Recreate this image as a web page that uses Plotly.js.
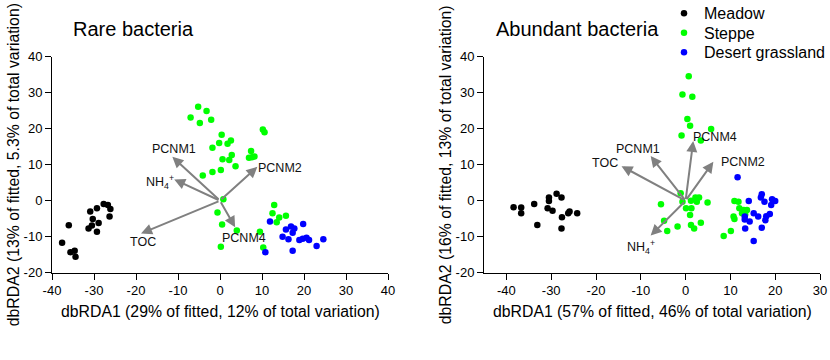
<!DOCTYPE html>
<html>
<head>
<meta charset="utf-8">
<script src="https://cdn.plot.ly/plotly-3.0.1.min.js"></script>
<style>html,body{margin:0;padding:0;background:#fff;}#chart{width:830px;height:360px;}</style>
</head>
<body>
<div id="chart"></div>
<script>
// ---------- Rare bacteria ----------
const rareMeadowX = [-27.7,-26.7,-26.1,-29.3,-30.9,-26.3,-30.3,-28.9,-30.5,-31.3,-29.3,-36.0,-37.6,-35.6,-34.6,-34.4];
const rareMeadowY = [-0.9,-1.2,-2.3,-2.1,-3.0,-4.4,-5.1,-6.2,-6.9,-7.7,-8.6,-6.8,-11.7,-14.3,-13.9,-15.6];
const rareSteppeX = [-5.2,-3.2,-7.0,-4.8,-2.1,10.2,10.6,0.4,-0.2,-1.8,1.8,2.6,2.8,0.6,2.2,3.7,7.4,6.9,7.6,8.2,0.2,-1.8,-4.1,
                     0.8,-0.6,0.5,4.0,0.2,12.9,12.5,14.1,13.5,15.7,9.5,10.3];
const rareSteppeY = [26.1,24.9,23.1,21.6,22.5,19.8,19.0,18.3,16.0,14.7,15.8,16.7,12.7,11.5,11.3,9.6,13.8,11.9,12.1,12.3,8.5,8.0,7.0,
                     0.4,-3.3,-6.6,-8.3,-12.8,-1.2,-3.5,-4.7,-6.0,-4.2,-8.6,-13.0];
const rareDesertX = [11.9,10.8,16.9,17.7,19.8,15.7,17.3,14.9,16.3,18.9,19.7,20.6,21.2,23.0,24.6,17.3];
const rareDesertY = [-5.8,-14.3,-7.2,-7.7,-6.5,-8.0,-8.9,-10.0,-10.7,-10.9,-10.6,-10.3,-10.9,-12.6,-10.7,-13.9];
const rareArrowNames = ["PCNM1","NH<sub>4</sub><sup>+</sup>","TOC","PCNM2","PCNM4"];
const rareArrowX = [-11.35,-10.9,-18.8,8.9,3.6];
const rareArrowY = [12.2,5.9,-9.1,9.4,-7.4];
const rareLabelX = [-11.0,-14.3,-18.4,14.4,5.8];
const rareLabelY = [14.4,5.3,-11.6,9.2,-10.4];

// ---------- Abundant bacteria ----------
const abMeadowX = [-38.4,-36.7,-36.7,-33.8,-33.1,-30.5,-30.5,-28.8,-27.7,-30.8,-29.7,-27.6,-25.9,-26.2,-24.2,-27.7];
const abMeadowY = [-1.8,-1.9,-3.5,-0.9,-6.75,0.9,-0.1,1.9,0.9,-2.1,-2.8,-4.6,-3.0,-3.5,-3.5,-7.7];
const abSteppeX = [0.7,-0.7,1.5,0.4,1.0,5.7,-0.9,3.4,
                   -1.1,-5.5,-0.7,1.2,2.2,3.0,2.5,4.9,0.1,1.3,1.0,-4.8,-1.8,-4.1,1.2,1.9,3.4,
                   10.9,11.8,12.0,13.0,12.6,13.7,13.3,10.7,10.9,10.1,8.5];
const abSteppeY = [34.6,29.5,28.9,22.7,20.8,19.9,18.1,16.7,
                   2.1,-1.0,-0.3,0.0,0.9,0.9,-0.3,-0.5,-2.1,-2.1,-4.0,-5.6,-7.2,-8.4,-6.75,-7.7,-6.1,
                   -0.1,-0.3,-2.1,-2.6,-3.5,-2.6,-3.8,-4.4,-5.1,-8.4,-9.8];
const abDesertX = [11.6,17.0,16.8,14.1,17.6,19.3,20.0,19.6,19.1,15.2,16.2,18.0,18.8,17.8,13.2,13.2,14.3,13.3,17.0,15.2];
const abDesertY = [6.5,1.8,0.9,-0.1,-0.3,0.4,-0.1,0.0,-1.2,-3.5,-4.4,-4.3,-3.7,-5.4,-4.4,-5.2,-5.8,-7.7,-7.5,-11.2];
const abArrowNames = ["PCNM1","TOC","PCNM4","PCNM2","NH<sub>4</sub><sup>+</sup>"];
const abArrowX = [-7.8,-14.3,1.7,6.2,-7.8];
const abArrowY = [12.4,9.6,16.6,10.8,-9.7];
const abLabelX = [-10.6,-18.0,6.5,12.9,-10.0];
const abLabelY = [14.5,10.6,17.6,10.7,-12.8];

// ---------- axes ticks ----------
const xTicksRare = [-40,-30,-20,-10,0,10,20,30,40];
const xTicksAb = [-40,-30,-20,-10,0,10,20,30];
const yTicks = [-20,-10,0,10,20,30,40];
const groupNames = ["Meadow","Steppe","Desert grassland"];
const groupColors = ["#000000","#00ff00","#0000ff"];
const legendIds = ["legend","legend2","legend3"];

const FONT = "Liberation Sans, Arial, sans-serif";
const W = 830, H = 360;
const px = v => v / W;
const py = v => (H - v) / H;

function pts(x, y, i, xa, ya, show) {
  return {type:"scatter", mode:"markers", x:x, y:y, xaxis:xa, yaxis:ya,
    name: groupNames[i], showlegend: show, legend: legendIds[i],
    marker:{color: groupColors[i], size:6.5, line:{width:0}}, hoverinfo:"skip", cliponaxis:false};
}

const traces = [
  pts(rareMeadowX, rareMeadowY, 0, "x", "y", false),
  pts(rareSteppeX, rareSteppeY, 1, "x", "y", false),
  pts(rareDesertX, rareDesertY, 2, "x", "y", false),
  pts(abMeadowX, abMeadowY, 0, "x2", "y2", true),
  pts(abSteppeX, abSteppeY, 1, "x2", "y2", true),
  pts(abDesertX, abDesertY, 2, "x2", "y2", true)
];

const annotations = [];
function arrows(names, ax, ay, lx, ly, xr, yr) {
  for (let i = 0; i < names.length; i++) {
    annotations.push({x: ax[i], y: ay[i], ax: 0, ay: 0, xref: xr, yref: yr, axref: xr, ayref: yr,
      text: "", showarrow: true, arrowhead: 2, arrowsize: 1.1, arrowwidth: 2, arrowcolor: "#808080"});
    annotations.push({x: lx[i], y: ly[i], xref: xr, yref: yr, text: names[i], showarrow: false,
      font: {family: FONT, size: 12.5, color: "#111"}});
  }
}
arrows(rareArrowNames, rareArrowX, rareArrowY, rareLabelX, rareLabelY, "x", "y");
arrows(abArrowNames, abArrowX, abArrowY, abLabelX, abLabelY, "x2", "y2");

const textAnn = (t, x, y, size, opts) => Object.assign({text: t, x: x, y: y, xref: "paper", yref: "paper",
  showarrow: false, font: {family: FONT, size: size, color: "#000"}}, opts || {});

annotations.push(textAnn("Rare bacteria", px(71), py(28.5), 20, {xanchor: "left", yanchor: "middle"}));
annotations.push(textAnn("Abundant bacteria", px(494), py(28.5), 20, {xanchor: "left", yanchor: "middle"}));
annotations.push(textAnn("dbRDA1 (29% of fitted, 12% of total variation)", px(220), py(311.5), 15.8, {xanchor: "center", yanchor: "middle"}));
annotations.push(textAnn("dbRDA1 (57% of fitted, 46% of total variation)", px(652), py(311.5), 15.8, {xanchor: "center", yanchor: "middle"}));
annotations.push(textAnn("dbRDA2 (13% of fitted, 5.3% of total variation)", px(13.5), py(164.7), 15.8, {xanchor: "center", yanchor: "middle", textangle: -90}));
annotations.push(textAnn("dbRDA2 (16% of fitted, 13% of total variation)", px(445.5), py(164.7), 15.8, {xanchor: "center", yanchor: "middle", textangle: -90}));

function xAxis(dom, range, ticks, anchor) {
  return {domain: dom, range: range, tickvals: ticks, ticktext: ticks.map(String), anchor: anchor,
    showline: true, linecolor: "#000", linewidth: 1, ticks: "outside", ticklen: 6, tickcolor: "#000",
    tickwidth: 1, showgrid: false, zeroline: false, tickfont: {family: FONT, size: 13, color: "#000"},
    fixedrange: true, automargin: false};
}
const yDom = [py(272.7), py(56.7)];

// legend entry centres (px from top)
const legendCentres = [13.3, 32.8, 52.3];
function legendAt(c) {
  return {x: px(664), y: py(c - 17), xanchor: "left", yanchor: "top", bgcolor: "rgba(0,0,0,0)",
    borderwidth: 0, font: {family: FONT, size: 16, color: "#000"}};
}

const layout = {
  width: W, height: H, margin: {l: 0, r: 0, t: 0, b: 0, autoexpand: false},
  paper_bgcolor: "#fff", plot_bgcolor: "#fff",
  xaxis: xAxis([px(52), px(388)], [-40, 40], xTicksRare, "y"),
  yaxis: xAxis(yDom, [-20, 40], yTicks, "x"),
  xaxis2: xAxis([px(484), px(820)], [-45, 30], xTicksAb, "y2"),
  yaxis2: xAxis(yDom, [-20, 40], yTicks, "x2"),
  showlegend: true,
  legend: legendAt(legendCentres[0]),
  legend2: legendAt(legendCentres[1]),
  legend3: legendAt(legendCentres[2]),
  annotations: annotations
};

Plotly.newPlot("chart", traces, layout, {displayModeBar: false, staticPlot: true});
</script>
</body>
</html>
